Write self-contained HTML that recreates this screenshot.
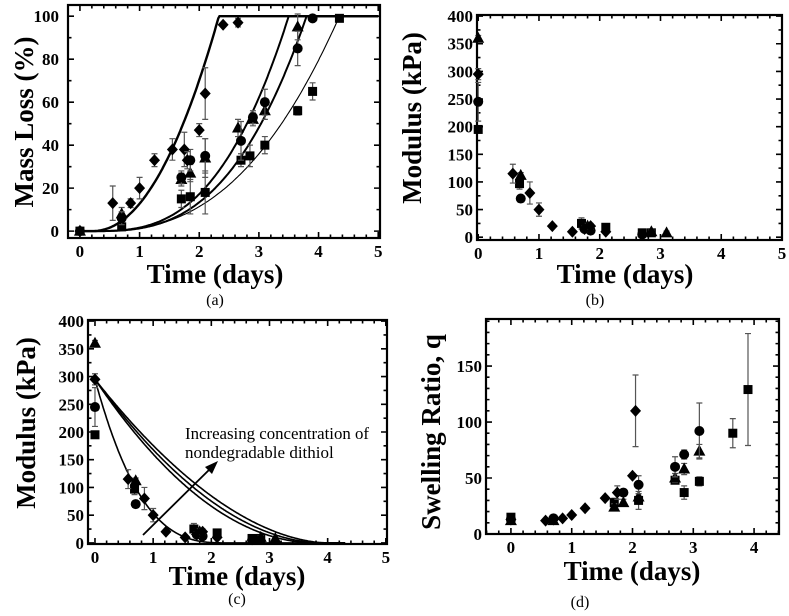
<!DOCTYPE html>
<html><head><meta charset="utf-8">
<style>
html,body{margin:0;padding:0;background:#fff;}
svg{display:block;font-family:"Liberation Serif",serif;}
</style></head>
<body>
<svg id="fig" width="789" height="616" viewBox="0 0 789 616"></svg>
<script>
// ---- Panel (a) mass loss data ----
const aDiamX=[0,0.55,0.85,1,1.25,1.55,1.75,1.8,2,2.1,2.4,2.65];
const aDiamY=[0,13,13,20,33,38,38,33,47,64,96,97];
const aDiamE=[1,8,2,5,3,5,8,4,3,12,1,2];
const aCircX=[0,0.7,1.7,1.85,2.1,2.7,2.9,3.1,3.65,3.9];
const aCircY=[0,6,25,33,35,42,53,60,85,99];
const aCircE=[1,3,3,5,8,9,3,6,8,1];
const aTriX=[0,0.7,1.7,1.85,2.1,2.65,2.9,3.1,3.65];
const aTriY=[0,8,24,27,34,48,52,56,95];
const aTriE=[1,3,3,4,9,4,3,4,6];
const aSqX=[0,0.7,1.7,1.85,2.1,2.7,2.85,3.1,3.65,3.9,4.35];
const aSqY=[0,2,15,16,18,33,35,40,56,65,99];
const aSqE=[1,1,4,8,10,3,5,4,2,4,1];
// fit curve parameters (end time, exponent)
const aFitEnd=[2.33,3.5,3.8,4.35];
const aFitExp=[2.1,2.9,2.9,2.6];
// ---- Panel (b)/(c) modulus data ----
const mDiamX=[0,0.57,0.85,1,1.22,1.55,1.75,1.85,2.1];
const mDiamY=[295,115,80,50,20,10,15,20,10];
const mDiamE=[10,17,20,12,3,3,5,5,3];
const mTriX=[0,0.7,1.8,2.85,3.1];
const mTriY=[360,112,20,10,8];
const mTriE=[5,5,5,3,3];
const mCircX=[0,0.7,1.75,1.85,2.7];
const mCircY=[245,70,15,12,5];
const mCircE=[35,5,5,5,3];
const mSqX=[0,0.68,1.7,2.1,2.7,2.85];
const mSqY=[195,97,25,18,8,8];
const mSqE=[5,10,10,5,3,3];
// modulus fit curves (initial modulus, end time, exponent)
const cFitStart=[295,295,295,295];
const cFitEnd=[2.3,3.8,3.9,4.0];
const cFitExp=[3.0,2.0,1.9,1.8];
// ---- Panel (d) swelling data ----
const dSqX=[0,1.7,2.1,2.7,2.85,3.1,3.65,3.9];
const dSqY=[15,28,30,48,37,47,90,129];
const dSqE=[3,4,8,3,6,4,13,50];
const dDiamX=[0,0.57,0.7,0.85,1,1.22,1.55,1.75,2,2.05];
const dDiamY=[13,12,13,14,17,23,32,37,52,110];
const dDiamE=[1,1,1,1,1,1,2,6,2,32];
const dCircX=[0,0.7,1.85,2.1,2.7,2.85,3.1];
const dCircY=[13,14,37,44,60,71,92];
const dCircE=[2,2,3,8,9,4,25];
const dTriX=[0,0.7,1.7,1.85,2.1,2.7,2.85,3.1];
const dTriY=[12,12,24,28,33,50,58,74];
const dTriE=[2,2,3,3,3,4,5,6];

const NS="http://www.w3.org/2000/svg";
const svg=document.getElementById('fig');
function mk(tag,at,parent){const e=document.createElementNS(NS,tag);for(const k in at)e.setAttribute(k,at[k]);(parent||svg).appendChild(e);return e;}

function panel(cfg){
  const g=mk('g',{});
  
  
  const sx=v=>cfg.L+(v-cfg.x0)/(cfg.x1-cfg.x0)*(cfg.R-cfg.L);
  const sy=v=>cfg.B-(v-cfg.y0)/(cfg.y1-cfg.y0)*(cfg.B-cfg.T);
  const box=mk('rect',{x:cfg.L,y:cfg.T,width:cfg.R-cfg.L,height:cfg.B-cfg.T,fill:'none',stroke:'#000','stroke-width':2.2},g);
  
  
  let p='';
  const xs=Math.ceil(cfg.x0/cfg.xm-1e-9);
  for(let i=xs;i*cfg.xm<=cfg.x1+1e-9;i++){
    const v=i*cfg.xm;
    const maj=Math.abs(v/cfg.xM-Math.round(v/cfg.xM))<1e-6;const l=maj?6:3.5;const x=sx(v);
    p+=`M${x},${cfg.B}v${-l}M${x},${cfg.T}v${l}`;
  }
  const ys=Math.ceil(cfg.y0/cfg.ym-1e-9);
  for(let i=ys;i*cfg.ym<=cfg.y1+1e-9;i++){
    const v=i*cfg.ym;
    const maj=Math.abs(v/cfg.yM-Math.round(v/cfg.yM))<1e-6;const l=maj?6:3.5;const y=sy(v);
    p+=`M${cfg.L},${y}h${l}M${cfg.R},${y}h${-l}`;
  }
  mk('path',{d:p,stroke:'#000','stroke-width':1.6,fill:'none'},g);
  const xt=mk('g',{},g);
  
  
  cfg.xTicks.forEach(v=>{const t=mk('text',{x:sx(v),y:cfg.B+19,'text-anchor':'middle','font-size':17,'font-weight':'bold'},xt);t.textContent=v;});
  const yt=mk('g',{},g);
  
  
  cfg.yTicks.forEach(v=>{const t=mk('text',{x:cfg.ylx,y:sy(v)+6,'text-anchor':'end','font-size':17,'font-weight':'bold'},yt);t.textContent=v;});
  const xl=mk('text',{x:cfg.xtx,y:cfg.xty,'text-anchor':'middle','font-size':27,'font-weight':'bold'},g);
  xl.textContent='Time (days)';
  
  
  const yl=mk('text',{x:0,y:0,'text-anchor':'middle','font-size':27,'font-weight':'bold',transform:`translate(${cfg.ytx},${cfg.yty}) rotate(-90)`},g);
  yl.textContent=cfg.ytitle;
  
  
  const cap=mk('text',{x:cfg.capx,y:cfg.capy,'text-anchor':'middle','font-size':16},g);
  cap.textContent=cfg.cap;
  
  
  return {g,sx,sy};
}

function series(P,xs,ys,es,shape,nm){
  const g=mk('g',{},P.g);
  
  
  xs.forEach((xv,i)=>{
    const x=P.sx(xv),y=P.sy(ys[i]);
    if(es&&es[i]>1.5){const y1=P.sy(ys[i]+es[i]),y2=P.sy(ys[i]-es[i]);
      mk('path',{d:`M${x},${y1}V${y2}M${x-3},${y1}h6M${x-3},${y2}h6`,stroke:'#555','stroke-width':1.2,fill:'none'},g);}
    let m;
    if(shape==='d')m=mk('path',{d:`M${x},${y-6}L${x+5.5},${y}L${x},${y+6}L${x-5.5},${y}Z`},g);
    else if(shape==='c')m=mk('circle',{cx:x,cy:y,r:5},g);
    else if(shape==='t')m=mk('path',{d:`M${x},${y-6.5}L${x+6},${y+4.5}L${x-6},${y+4.5}Z`},g);
    else m=mk('rect',{x:x-4.5,y:y-4.5,width:9,height:9},g);
    m.setAttribute('fill','#000');
    
    
  });
}

// Panel a
const A=panel({name:'panel-a-mass-loss',L:68,R:380,T:5,B:238,x0:-0.2,x1:5.03,y0:-3.2,y1:105.2,xm:0.2,xM:1,ym:10,yM:20,
  xTicks:[0,1,2,3,4,5],yTicks:[0,20,40,60,80,100],ylx:59,xtx:215,xty:283,ytitle:'Mass Loss (%)',ytx:33,yty:122,cap:'(a)',capx:215,capy:305});
aFitEnd.forEach((tf,k)=>{
  const t0=0.2;let d='';
  for(let t=0;t<=5;t+=0.02){const v=t<=t0?0:(t>=tf?100:100*Math.pow((t-t0)/(tf-t0),aFitExp[k]));d+=(d?'L':'M')+A.sx(t).toFixed(1)+','+A.sy(v).toFixed(1);}
  const l=mk('path',{d,fill:'none',stroke:'#000','stroke-width':k===0?2.4:(k===3?1.1:2)},A.g);
  
  
});
series(A,aSqX,aSqY,aSqE,'s','series-square');
series(A,aTriX,aTriY,aTriE,'t','series-triangle');
series(A,aCircX,aCircY,aCircE,'c','series-circle');
series(A,aDiamX,aDiamY,aDiamE,'d','series-diamond');

// Panel b
const B=panel({name:'panel-b-modulus',L:477,R:782,T:15,B:240,x0:-0.02,x1:5.0,y0:-5,y1:402,xm:0.2,xM:1,ym:25,yM:50,
  xTicks:[0,1,2,3,4,5],yTicks:[0,50,100,150,200,250,300,350,400],ylx:473,xtx:625,xty:283,ytitle:'Modulus (kPa)',ytx:421,yty:118,cap:'(b)',capx:595,capy:305});
series(B,mSqX,mSqY,mSqE,'s','series-square');
series(B,mCircX,mCircY,mCircE,'c','series-circle');
series(B,mTriX,mTriY,mTriE,'t','series-triangle');
series(B,mDiamX,mDiamY,mDiamE,'d','series-diamond');

// Panel c
const C=panel({name:'panel-c-modulus-fit',L:88,R:387,T:320,B:544,x0:-0.12,x1:5.02,y0:-2,y1:402,xm:0.2,xM:1,ym:25,yM:50,
  xTicks:[0,1,2,3,4,5],yTicks:[0,50,100,150,200,250,300,350,400],ylx:84,xtx:237,xty:585,ytitle:'Modulus (kPa)',ytx:35,yty:423,cap:'(c)',capx:237,capy:604});
cFitEnd.forEach((T,k)=>{
  let d='';
  for(let t=0;t<=4.3;t+=0.02){const v=t>=T?0:cFitStart[k]*Math.pow(1-t/T,cFitExp[k]);d+=(d?'L':'M')+C.sx(t).toFixed(1)+','+C.sy(v).toFixed(1);}
  const l=mk('path',{d,fill:'none',stroke:'#000','stroke-width':1.6},C.g);
  
  
});
series(C,mSqX,mSqY,mSqE,'s','series-square');
series(C,mCircX,mCircY,mCircE,'c','series-circle');
series(C,mTriX,mTriY,mTriE,'t','series-triangle');
series(C,mDiamX,mDiamY,mDiamE,'d','series-diamond');
const ann=mk('g',{},C.g);


mk('path',{d:'M143,535L213,466',stroke:'#000','stroke-width':1.8,fill:'none'},ann);
mk('path',{d:'M218,461L205,467L212,474Z',fill:'#000'},ann);
const t1=mk('text',{x:185,y:439,'font-size':17,textLength:184,lengthAdjust:'spacingAndGlyphs'},ann);t1.textContent='Increasing concentration of';
const t2=mk('text',{x:185,y:458,'font-size':17},ann);t2.textContent='nondegradable dithiol';

// Panel d
const D=panel({name:'panel-d-swelling',L:486,R:779,T:319,B:534,x0:-0.41,x1:4.41,y0:0,y1:192,xm:0.2,xM:1,ym:10,yM:50,
  xTicks:[0,1,2,3,4],yTicks:[0,50,100,150],ylx:482,xtx:632,xty:580,ytitle:'Swelling Ratio, q',ytx:440,yty:432,cap:'(d)',capx:580,capy:607});
series(D,dSqX,dSqY,dSqE,'s','series-square');
series(D,dTriX,dTriY,dTriE,'t','series-triangle');
series(D,dCircX,dCircY,dCircE,'c','series-circle');
series(D,dDiamX,dDiamY,dDiamE,'d','series-diamond');
</script>
</body></html>
